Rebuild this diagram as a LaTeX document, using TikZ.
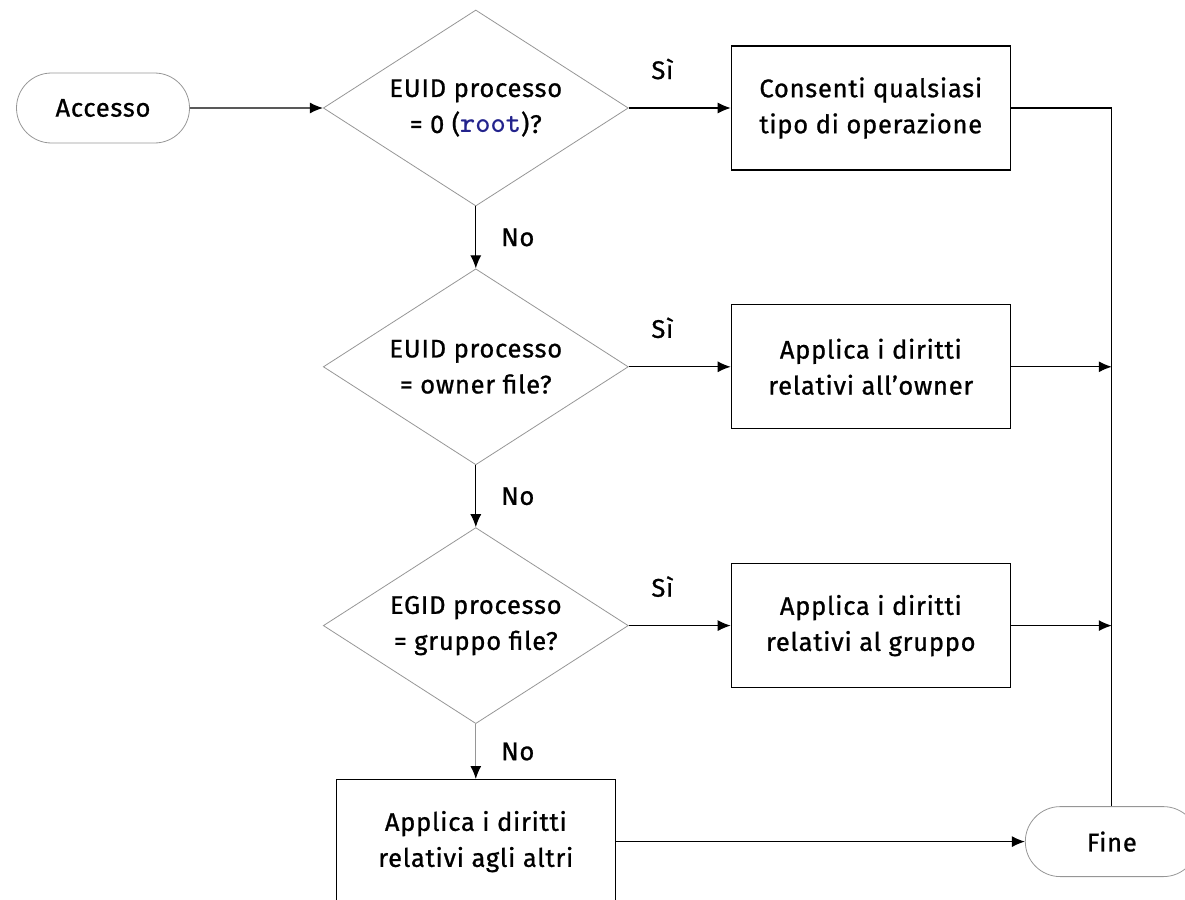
\documentclass[tikz,border=0pt]{standalone}
\usepackage{fontspec}
\setmainfont{Fira Sans}[UprightFeatures = {FakeBold = 0.9}, LetterSpace = 3]
\usepackage{xcolor}
\usetikzlibrary{shapes, positioning, arrows.meta}
\definecolor{rootblue}{RGB}{35,35,140}
\definecolor{edgegray}{RGB}{150,150,150}
\newlength{\Gap}
\setlength\Gap{62pt}
\newcommand{\rootname}{{\fontsize{29pt}{35pt}\ttfamily\bfseries\color{rootblue}root}}

\begin{document}
\begin{tikzpicture}[
    > = {Latex[length = 13pt, width = 11pt]}, align = center,
    font = \fontsize{25.5pt}{36pt}\selectfont,
    terminal/.style = {
      rounded rectangle, draw = edgegray, line width = 0.8pt,
      inner sep = 0pt, minimum width = 173pt, minimum height = 70pt
    },
    process/.style = {
      rectangle, draw, line width = 1.2pt,
      inner sep = 0pt, minimum width = 279pt, minimum height = 124pt
    },
    decision/.style = {
      diamond, aspect = 1.56, draw = edgegray, line width = 0.8pt,
      inner sep = 0pt, minimum width = 305pt, minimum height = 196pt
    },
    path/.style = {
      arrows = ->, line width = 1.2pt
    },
    line/.style = {
      line width = 1.2pt
    },
    yes/.style = {
      pos = .33, yshift = 39pt
    },
    no/.style = {
      midway, xshift = 42pt
    },
    ]

    \useasboundingbox (0pt, 0pt) rectangle (1185pt, -899pt);

    % draw the decisions
    \node  [terminal]  (acc)  at (103pt, -108pt)  {Accesso};
    \node  [decision]  (d1)  [right = 133pt of acc]  {EUID processo\\= 0 (\rootname)?};
    \node  [decision]  (d2)  [below = \Gap of d1]  {EUID processo\\= owner file?};
    \node  [decision]  (d3)  [below = \Gap of d2]  {EGID processo\\= gruppo file?};

    % draw the actions
    \node  [process]  (b1)  [right = 102pt of d1]  {Consenti qualsiasi\\tipo di operazione};
    \node  [process]  (b2)  [right = 102pt of d2]  {Applica i diritti\\relativi all’owner};
    \node  [process]  (b3)  [right = 102pt of d3]  {Applica i diritti\\relativi al gruppo};
    \node  [process]  (b4)  [below = 55pt of d3]  {Applica i diritti\\relativi agli altri};
    \node  [terminal]  (fine)  [right = 409pt of b4]  {Fine};

    \coordinate  (j2)  at (b2 -| fine);
    \coordinate  (j3)  at (b3 -| fine);

    % draw paths
    \draw  [path]  (acc)  --  (d1);
    \draw  [path]  (d1)  --  node  [yes]  {Sì}  (b1);
    \draw  [path]  (d2)  --  node  [yes]  {Sì}  (b2);
    \draw  [path]  (d3)  --  node  [yes]  {Sì}  (b3);
    \draw  [path]  (d1)  --  node  [no]  {No}  (d2);
    \draw  [path]  (d2)  --  node  [no]  {No}  (d3);
    \draw  [path, edgegray, -{Latex[length = 13pt, width = 11pt, black]}]  (d3)  --  node  [no, black]  {No}  (b4);

    \draw  [line]  (b1)  -|  (fine);
    \draw  [path]  (b2)  --  (j2);
    \draw  [path]  (b3)  --  (j3);
    \draw  [path]  (b4)  --  (fine);

\end{tikzpicture}
\end{document}
